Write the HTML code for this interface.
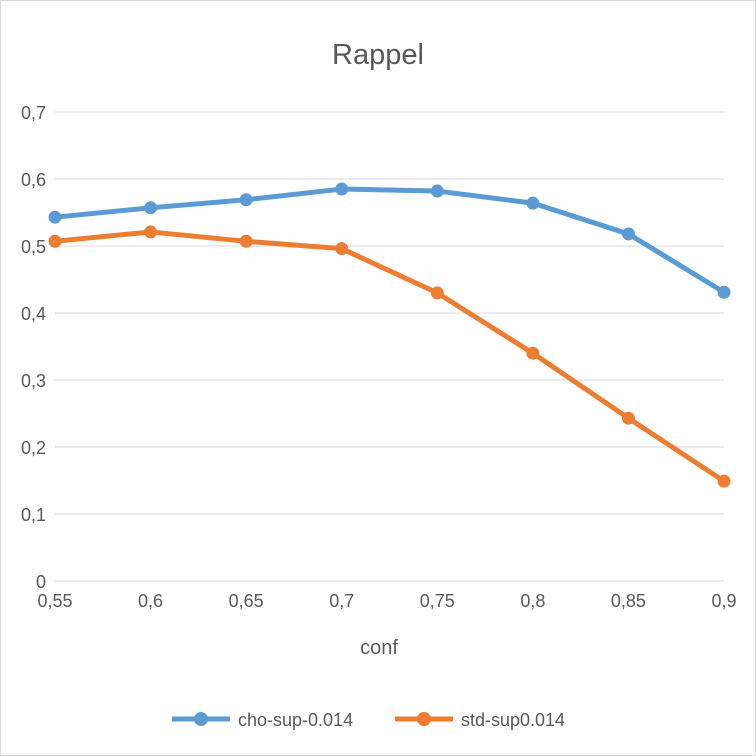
<!DOCTYPE html>
<html><head><meta charset="utf-8"><style>
body{margin:0;background:#fff}
svg{display:block;font-family:"Liberation Sans",sans-serif}
</style></head><body>
<svg id="chart" width="756" height="756">
<rect x="0.5" y="0.5" width="755" height="755" fill="#fff" stroke="#d9d9d9"/>
<text x="378" y="64" text-anchor="middle" font-size="29" fill="#595959">Rappel</text>
<g id="grid"></g><g id="xt"></g><g id="yt"></g><g id="series"></g>
<text x="379" y="654" text-anchor="middle" font-size="20" fill="#595959">conf</text>
<g>
<line x1="172" y1="719" x2="230" y2="719" stroke="#5b9bd5" stroke-width="5"/>
<circle cx="201" cy="719" r="7" fill="#5b9bd5"/>
<text x="238" y="726" font-size="18" fill="#595959">cho-sup-0.014</text>
<line x1="395" y1="719" x2="453" y2="719" stroke="#ed7d31" stroke-width="5"/>
<circle cx="424" cy="719" r="7" fill="#ed7d31"/>
<text x="461" y="726" font-size="18" fill="#595959">std-sup0.014</text>
</g>
</svg>
<script>
const categories=["0,55","0,6","0,65","0,7","0,75","0,8","0,85","0,9"];
const choValues=[0.543,0.557,0.569,0.585,0.582,0.564,0.518,0.431];
const stdValues=[0.507,0.521,0.507,0.496,0.430,0.340,0.243,0.149];
const yTicks=[0,0.1,0.2,0.3,0.4,0.5,0.6,0.7];
const yTickLabels=["0","0,1","0,2","0,3","0,4","0,5","0,6","0,7"];
const NS="http://www.w3.org/2000/svg";
const x=i=>55+i*(724-55)/(categories.length-1);
const y=v=>581-v*(581-112)/0.7;
function mk(tag,attrs,parent){const e=document.createElementNS(NS,tag);for(const k in attrs)e.setAttribute(k,attrs[k]);document.getElementById(parent).appendChild(e);return e;}
yTicks.forEach((t,i)=>{
 const l=mk('line',{x1:55,x2:724,y1:y(t),y2:y(t),stroke:'#d9d9d9','stroke-width':1},'grid');
 
 
 const tx=mk('text',{x:46,y:y(t)+7,'text-anchor':'end','font-size':18,fill:'#595959'},'yt');
 tx.textContent=yTickLabels[i];
 
 
});
categories.forEach((c,i)=>{
 const tx=mk('text',{x:x(i),y:607,'text-anchor':'middle','font-size':18,fill:'#595959'},'xt');
 tx.textContent=c;
 
 
});
function draw(vals,color,name){
 const p=mk('polyline',{points:vals.map((v,i)=>x(i)+','+y(v)).join(' '),fill:'none',stroke:color,'stroke-width':5,'stroke-linejoin':'round','stroke-linecap':'round'},'series');
 
 
 vals.forEach((v,i)=>{
  const c=mk('circle',{cx:x(i),cy:y(v),r:6.5,fill:color},'series');
  
  
 });
}
draw(choValues,'#5b9bd5','cho-sup');
draw(stdValues,'#ed7d31','std-sup');
</script>
</body></html>
